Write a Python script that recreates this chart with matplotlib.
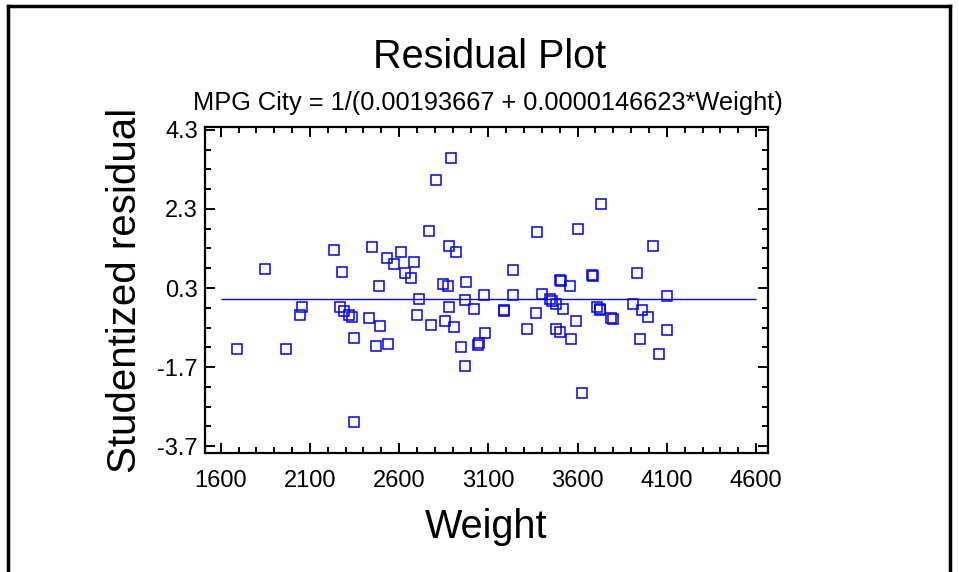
import numpy as np
import matplotlib
matplotlib.use('Agg')
import matplotlib.pyplot as plt
from matplotlib.lines import Line2D
from matplotlib.ticker import MultipleLocator, FixedLocator

plt.rcParams['font.family'] = ['Liberation Sans', 'DejaVu Sans']

# residuals
weight = [1690, 1848, 1966, 2044, 2054, 2235, 2268, 2278, 2292, 2320,
          2337, 2345, 2346, 2432, 2449, 2468, 2486, 2492, 2530, 2537,
          2570, 2610, 2632, 2666, 2683, 2701, 2710, 2768, 2778, 2804,
          2847, 2856, 2875, 2882, 2882, 2890, 2908, 2918, 2944, 2970,
          2970, 2975, 3020, 3041, 3045, 3073, 3080, 3185, 3190, 3237,
          3237, 3314, 3366, 3373, 3401, 3444, 3459, 3478, 3481, 3502,
          3505, 3504, 3519, 3556, 3563, 3593, 3600, 3622, 3681, 3686,
          3708, 3724, 3728, 3731, 3785, 3800, 3908, 3934, 3951, 3960,
          3997, 4021, 4056, 4099, 4101]
resid = [-1.23, 0.79, -1.23, -0.37, -0.18, 1.25, -0.19, 0.70, -0.27, -0.39,
         -0.42, -0.96, -3.09, -0.46, 1.34, -1.16, 0.36, -0.65, 1.07, -1.11,
         0.91, 1.22, 0.67, 0.56, 0.95, -0.37, 0.02, 1.75, -0.64, 3.03,
         0.41, -0.53, 0.36, 1.37, -0.18, 3.58, -0.68, 1.22, -1.19, 0.00,
         -1.66, 0.44, -0.22, -1.13, -1.10, 0.13, -0.84, -0.27, -0.25, 0.75,
         0.13, -0.73, -0.33, 1.72, 0.16, 0.02, -0.02, -0.73, -0.10, 0.50,
         0.47, -0.80, -0.22, 0.34, -0.99, -0.53, 1.80, -2.35, 0.62, 0.60,
         -0.18, -0.25, -0.22, 2.42, -0.46, -0.48, -0.10, 0.67, -0.99, -0.25,
         -0.42, 1.37, -1.38, -0.76, 0.09]
fit_level = 0.02
x_ticks = [1600, 2100, 2600, 3100, 3600, 4100, 4600]
y_ticks = [-3.7, -1.7, 0.3, 2.3, 4.3]

fig = plt.figure(figsize=(9.59, 5.72), dpi=100)
ax = fig.add_axes([205/959, 1 - 453/572, (768 - 205)/959, (453 - 127)/572])

ax.plot(weight, resid, 's', markersize=7.5, markerfacecolor='none',
        markeredgecolor='#0000ff', markeredgewidth=1.1)
ax.hlines(fit_level, 1600, 4600, color='#0000ff', lw=1.0)

ax.set_xlim(1512, 4667)
ax.set_ylim(-3.87, 4.37)
ax.xaxis.set_major_locator(FixedLocator(x_ticks))
ax.xaxis.set_minor_locator(MultipleLocator(100))
ax.yaxis.set_major_locator(FixedLocator(y_ticks))
ax.yaxis.set_minor_locator(FixedLocator(np.arange(-3.7, 4.31, 0.5)))
ax.set_yticklabels([f'{v:g}' for v in y_ticks])

ax.tick_params(which='both', direction='in', top=True, right=True, width=1.4, color='black')
ax.tick_params(which='major', length=7.5)
ax.tick_params(which='minor', length=4.5)
ax.tick_params(axis='x', labelsize=17, pad=12)
ax.tick_params(axis='y', labelsize=17, pad=5)
for s in ax.spines.values():
    s.set_linewidth(1.6)

ax.set_xlabel('Weight', fontsize=28.5, labelpad=12)
ax.set_ylabel('Studentized residual', fontsize=29, labelpad=10)

fig.text(490/959, 1 - 57/572, 'Residual Plot', fontsize=28.5, ha='center', va='center')
fig.text(488/959, 1 - 103/572, 'MPG City = 1/(0.00193667 + 0.0000146623*Weight)',
         fontsize=18.3, ha='center', va='center')

# outer frame
fig.add_artist(Line2D([8/959, 8/959], [0, 1 - 6/572], color='black', lw=2.5,
                      transform=fig.transFigure))
fig.add_artist(Line2D([8/959, 950/959], [1 - 6/572, 1 - 6/572], color='black', lw=2.5,
                      transform=fig.transFigure))
fig.add_artist(Line2D([950/959, 950/959], [0, 1 - 6/572], color='black', lw=2.5,
                      transform=fig.transFigure))

fig.savefig('out.png', dpi=100)
